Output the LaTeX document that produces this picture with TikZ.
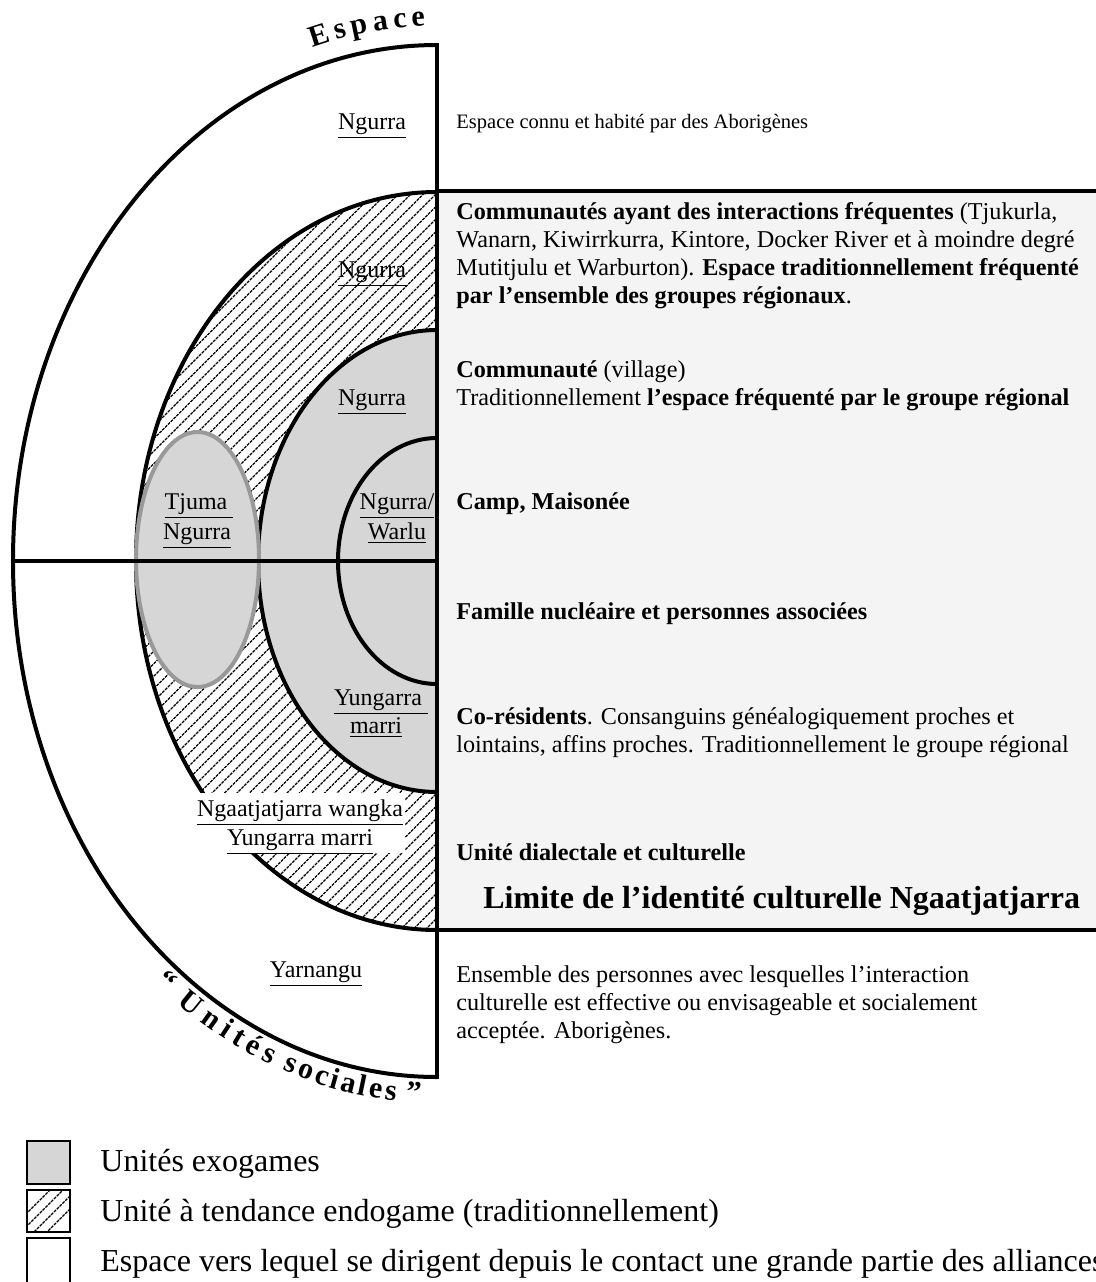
\documentclass[tikz,border=0pt]{standalone}
\usepackage{fontspec}
\setmainfont{Liberation Serif}
\usetikzlibrary{calc}
\definecolor{exo}{HTML}{D6D6D6}
\definecolor{boxbg}{HTML}{F4F4F4}
\definecolor{tjline}{HTML}{999999}
\begin{document}
\begin{tikzpicture}[x=0.5pt,y=0.5pt,
  bnd/.style={line width=2pt, black},
  hatchline/.style={line width=0.6pt, dash pattern=on 1.5pt off 0.5pt},
  lbl/.style={font=\fontsize{12}{14}\selectfont, inner sep=0pt, anchor=base},
  desc/.style={font=\fontsize{12.1}{14}\selectfont, inner sep=0pt, anchor=base west},
  small/.style={font=\fontsize{10.25}{14}\selectfont, inner sep=0pt, anchor=base west},
  big/.style={font=\fontsize{16}{18}\bfseries\selectfont, inner sep=0pt, anchor=base west},
  curv/.style={font=\fontsize{15}{17}\bfseries\selectfont, inner sep=0pt, anchor=base},
  leg/.style={font=\fontsize{16}{18}\selectfont, inner sep=0pt, anchor=base west},
  legbox/.style={draw, line width=1pt}]

\useasboundingbox (0,0) rectangle (1096,-1282);
\fill[white] (0,0) rectangle (1096,-1282);
\coordinate (C) at (437,-561);

% right grey box
\fill[boxbg] (437,-191) rectangle (1096,-930);

% label under the hatching
\node[lbl] (ng2) at (372,-277) {\underline{Ngurra}};

% hatching of the endogamous unit
\begin{scope}
  \clip (437,-192) arc[start angle=90, end angle=270, x radius=301, y radius=369] -- cycle;
  \foreach \c in {-1380,-1367.5,...,-300} \draw[hatchline] (100,100+\c) -- (460,460+\c);
\end{scope}

% exogamous grey half ellipse
\fill[exo] (437,-330) arc[start angle=90, end angle=270, x radius=179, y radius=231] -- cycle;

% arcs
\draw[bnd] (437,-45)  arc[start angle=90, end angle=270, x radius=424, y radius=516];
\draw[bnd] (437,-192) arc[start angle=90, end angle=270, x radius=301, y radius=369];
\draw[bnd] (437,-330) arc[start angle=90, end angle=270, x radius=179, y radius=231];
\draw[bnd] (437,-438) arc[start angle=90, end angle=270, x radius=99,  y radius=123];

% Tjuma ellipse
\draw[tjline, fill=exo, line width=2pt] (197.5,-559.5) ellipse[x radius=61.5, y radius=127.5];

% axes
\draw[bnd] (13,-561) -- (C);
\draw[bnd] (437,-43) -- (437,-1079);
\draw[bnd] (437,-191) -- (1096,-191);
\draw[bnd] (437,-930) -- (1096,-930);

% white patch behind dialect label
\fill[white] (197,-793) rectangle (405,-853);
\node[lbl] (ngw) at (300,-816) {\underline{Ngaatjatjarra wangka}};
\node[lbl] (yma) at (300,-845) {\underline{Yungarra marri}};

% left labels
\node[lbl] (ng1) at (372,-129) {\underline{Ngurra}};
\node[lbl] (ng3) at (372,-405) {\underline{Ngurra}};
\node[lbl] (ngw1) at (397,-509) {\underline{Ngurra/}};
\node[lbl] (ngw2) at (397,-539) {\underline{Warlu}};
\node[lbl] (tj1) at (199,-509) {\underline{Tjuma~}};
\node[lbl] (tj2) at (197,-539) {\underline{Ngurra}};
\node[lbl] (yu1) at (381,-705) {\underline{Yungarra~}};
\node[lbl] (yu2) at (376,-733) {\underline{marri}};
\node[lbl] (yar) at (316,-977) {\underline{Yarnangu}};

% right descriptions
\node[small] (d0) at (456,-128) {Espace connu et habité par des Aborigènes};
\node[desc] (d1a) at (456,-219) {\textbf{Communautés ayant des interactions fréquentes} (Tjukurla,};
\node[desc] (d1b) at (456,-247) {Wanarn, Kiwirrkurra, Kintore, Docker River et à moindre degré};
\node[desc] (d1c) at (456,-275) {Mutitjulu et Warburton). \textbf{Espace traditionnellement fréquenté}};
\node[desc] (d1d) at (456,-303) {\textbf{par l’ensemble des groupes régionaux}.};
\node[desc] (d2a) at (456,-377) {\textbf{Communauté} (village)};
\node[desc] (d2b) at (456,-405) {Traditionnellement \textbf{l’espace fréquenté par le groupe régional}};
\node[desc] (d3) at (456,-509) {\textbf{Camp, Maisonée}};
\node[desc] (d4) at (456,-619) {\textbf{Famille nucléaire et personnes associées}};
\node[desc] (d5a) at (456,-724) {\textbf{Co-résidents}. Consanguins généalogiquement proches et};
\node[desc] (d5b) at (456,-752) {lointains, affins proches. Traditionnellement le groupe régional};
\node[desc] (d6) at (456,-860) {\textbf{Unité dialectale et culturelle}};
\node[big] (lim) at (483,-908) {Limite de l’identité culturelle Ngaatjatjarra};
\node[desc] (d7a) at (456,-982) {Ensemble des personnes avec lesquelles l’interaction};
\node[desc] (d7b) at (456,-1010) {culturelle est effective ou envisageable et socialement};
\node[desc] (d7c) at (456,-1038) {acceptée. Aborigènes.};

% curved title "Espace"
\foreach \a/\l [count=\i] in {105.0/E, 102.3/s, 99.9/p, 97.2/a, 94.7/c, 92.4/e}{
  \pgfmathsetmacro\rot{atan2(-535*cos(\a), 443*sin(\a))}
  \node[curv, rotate=\rot] (top\i) at ($(C)+(\a:443 and 535)$) {\l};
}
% curved title "Unités sociales"
\foreach \a/\l [count=\i] in {232.0/“, 236.0/U, 239.1/n, 241.4/i, 243.3/t, 245.4/é, 247.6/s, 250.6/s, 252.7/o, 254.9/c, 256.6/i, 258.4/a, 260.2/l, 262.0/e, 264.0/s, 267.0/”}{
  \pgfmathsetmacro\rot{atan2(542*cos(\a), -450*sin(\a))}
  \node[curv, rotate=\rot] (bot\i) at ($(C)+(\a:450 and 542)$) {\l};
}

% legend
\node[legbox, fill=exo, minimum width=21.5pt, minimum height=21.5pt, inner sep=0pt] (lb1) at (48.5,-1162.5) {};
\node[legbox, minimum width=21.5pt, minimum height=21pt, inner sep=0pt] (lb2) at (48.5,-1211) {};
\begin{scope}
  \clip (27,-1190) rectangle (70,-1232);
  \foreach \c in {-1240,-1253,-1266,-1279} \draw[hatchline] (20,20+\c) -- (80,80+\c);
\end{scope}
\node[legbox, minimum width=21.5pt, minimum height=26pt, inner sep=0pt] (lb3) at (48.5,-1264) {};
\node[leg] (l1) at (100,-1171) {Unités exogames};
\node[leg] (l2) at (100,-1221) {Unité à tendance endogame (traditionnellement)};
\node[leg] (l3) at (100,-1271) {Espace vers lequel se dirigent depuis le contact une grande partie des alliances};
\end{tikzpicture}
\end{document}
